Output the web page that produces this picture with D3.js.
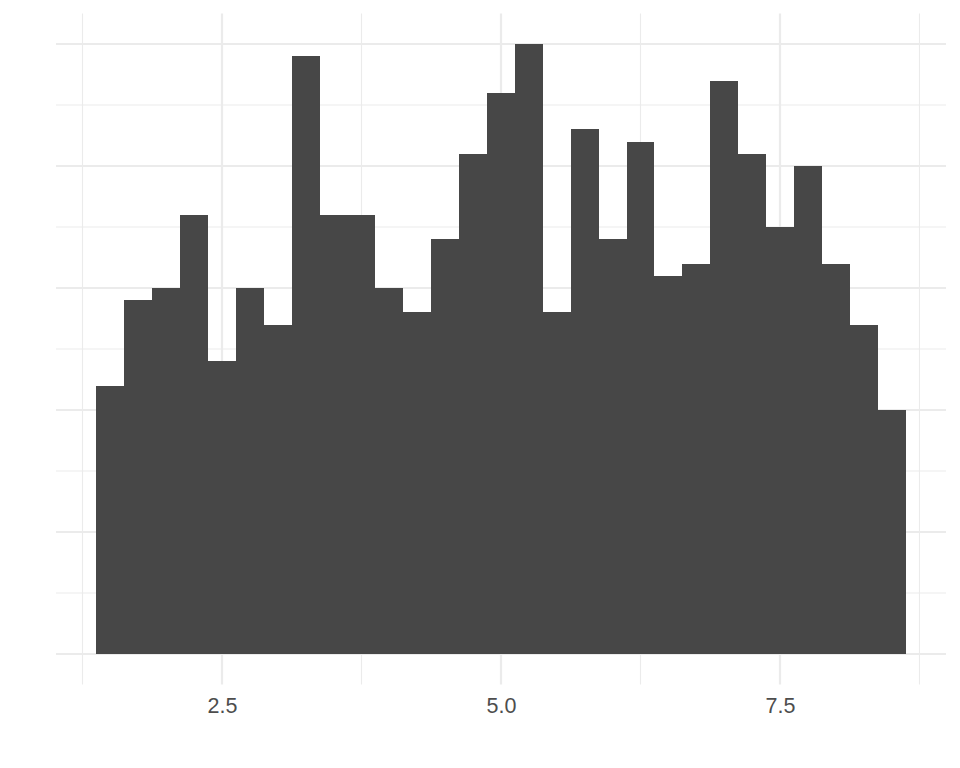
<!DOCTYPE html>
<html>
<head>
<meta charset="utf-8">
<script src="https://cdn.jsdelivr.net/npm/d3@7"></script>
<style>
  body { margin: 0; background: #fff; }
  svg { display: block; }
</style>
</head>
<body>
<svg id="chart" width="960" height="768"></svg>
<script>
// ── Histogram (30 default bins, theme_minimal look) ────────────────────────

const binLefts = [1.375, 1.625, 1.875, 2.125, 2.375, 2.625, 2.875, 3.125, 3.375, 3.625,
                  3.875, 4.125, 4.375, 4.625, 4.875, 5.125, 5.375, 5.625, 5.875, 6.125,
                  6.375, 6.625, 6.875, 7.125, 7.375, 7.625, 7.875, 8.125, 8.375];
const binRights = [1.625, 1.875, 2.125, 2.375, 2.625, 2.875, 3.125, 3.375, 3.625, 3.875,
                   4.125, 4.375, 4.625, 4.875, 5.125, 5.375, 5.625, 5.875, 6.125, 6.375,
                   6.625, 6.875, 7.125, 7.375, 7.625, 7.875, 8.125, 8.375, 8.625];
const counts = [22, 29, 30, 36, 24, 30, 27, 49, 36, 36, 30, 28, 34, 41, 46, 50, 28, 43, 34, 42,
                31, 32, 47, 41, 35, 40, 32, 27, 20];

const xMajor = [2.5, 5.0, 7.5];
const xMinor = [1.25, 3.75, 6.25, 8.75];
const xLabels = ['2.5', '5.0', '7.5'];
const yMajor = [0, 10, 20, 30, 40, 50];
const yMinor = [5, 15, 25, 35, 45];

const panel = { left: 56, right: 946, top: 13.5, bottom: 684.5 };

const svg = d3.select('#chart');

// ggplot-style 5% expansion of the data range
const xLo = d3.min(binLefts), xHi = d3.max(binRights);
const xPad = (xHi - xLo) * 0.05;
const x = d3.scaleLinear().domain([xLo - xPad, xHi + xPad]).range([panel.left, panel.right]);
const yMax = d3.max(counts);
const y = d3.scaleLinear().domain([-yMax * 0.05, yMax * 1.05]).range([panel.bottom, panel.top]);

const grid = svg.append('g');
// minor gridlines
grid.selectAll('.ymin').data(yMinor).join('line')
  .attr('x1', panel.left).attr('x2', panel.right)
  .attr('y1', d => y(d)).attr('y2', d => y(d))
  .attr('stroke', '#ebebeb').attr('stroke-width', 1.1);
grid.selectAll('.xmin').data(xMinor).join('line')
  .attr('x1', d => x(d)).attr('x2', d => x(d))
  .attr('y1', panel.top).attr('y2', panel.bottom)
  .attr('stroke', '#ebebeb').attr('stroke-width', 1.1);
// major gridlines
grid.selectAll('.ymaj').data(yMajor).join('line')
  .attr('x1', panel.left).attr('x2', panel.right)
  .attr('y1', d => y(d)).attr('y2', d => y(d))
  .attr('stroke', '#ebebeb').attr('stroke-width', 2.2);
grid.selectAll('.xmaj').data(xMajor).join('line')
  .attr('x1', d => x(d)).attr('x2', d => x(d))
  .attr('y1', panel.top).attr('y2', panel.bottom)
  .attr('stroke', '#ebebeb').attr('stroke-width', 2.2);

// bars
svg.append('g').selectAll('rect').data(counts).join('rect')
  .attr('x', (d, i) => x(binLefts[i]))
  .attr('width', (d, i) => x(binRights[i]) - x(binLefts[i]))
  .attr('y', d => y(d))
  .attr('height', d => y(0) - y(d))
  .attr('fill', '#474747')
  .attr('shape-rendering', 'crispEdges');

// x axis labels only
const xAxis = d3.axisBottom(x).tickValues(xMajor).tickSize(0).tickPadding(13)
  .tickFormat((d, i) => xLabels[i]);
const ax = svg.append('g').attr('transform', `translate(0,${panel.bottom})`).call(xAxis);
ax.select('.domain').remove();
ax.selectAll('text')
  .attr('font-family', 'Liberation Sans, Arial, sans-serif')
  .attr('font-size', 21.5)
  .attr('fill', '#4d4d4d');
</script>
</body>
</html>
